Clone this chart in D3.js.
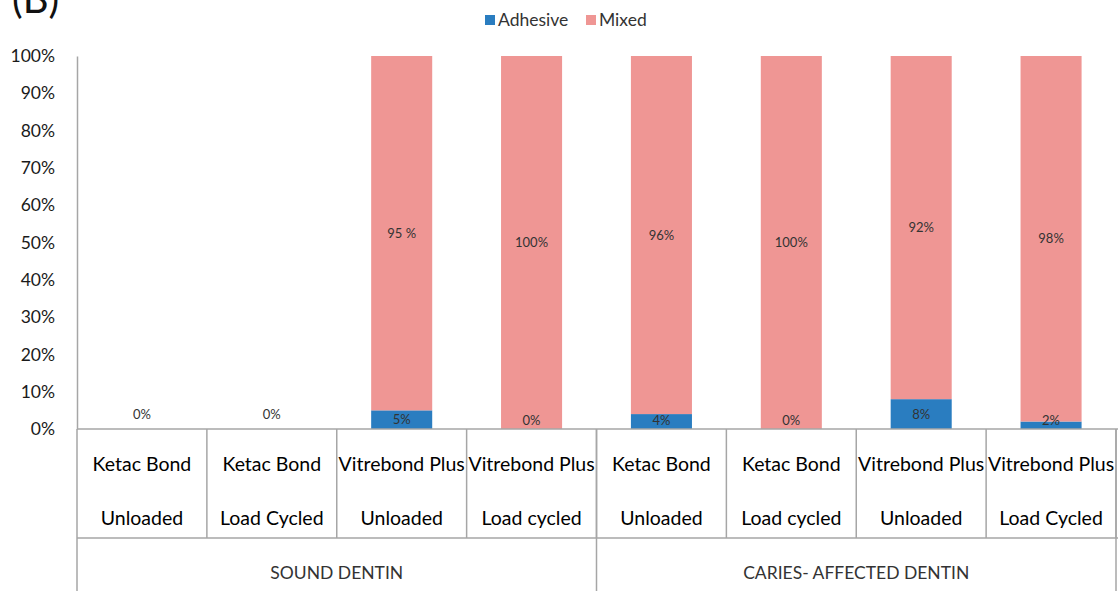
<!DOCTYPE html>
<html>
<head>
<meta charset="utf-8">
<script src="https://cdn.jsdelivr.net/npm/d3@7"></script>
<style>
  html, body { margin: 0; padding: 0; background: #fff; }
  svg { display: block; }
  text { font-family: Lato, "Open Sans", sans-serif; }
</style>
</head>
<body>
<svg id="chart" width="1118" height="591"></svg>
<script>
// ---- data ----
const materials = ["Ketac Bond", "Ketac Bond", "Vitrebond Plus", "Vitrebond Plus",
                   "Ketac Bond", "Ketac Bond", "Vitrebond Plus", "Vitrebond Plus"];
const conditions = ["Unloaded", "Load Cycled", "Unloaded", "Load cycled",
                    "Unloaded", "Load cycled", "Unloaded", "Load Cycled"];
const groups = ["SOUND DENTIN", "CARIES- AFFECTED DENTIN"];
const groupSizes = [4, 4];
const adhesive = [0, 0, 5, 0, 4, 0, 8, 2];
const mixed = [0, 0, 95, 100, 96, 100, 92, 98];
const adhesiveLabels = ["0%", "0%", "5%", "0%", "4%", "0%", "8%", "2%"];
const mixedLabels = ["", "", "95 %", "100%", "96%", "100%", "92%", "98%"];
const seriesNames = ["Adhesive", "Mixed"];
const yTicks = [0, 10, 20, 30, 40, 50, 60, 70, 80, 90, 100];

// ---- layout ----
const colors = { Adhesive: "#2a7dc0", Mixed: "#ef9694" };
const gridColor = "#a6a6a6";
const L = { left: 77, right: 1116, top: 56, base: 429, row1: 538, bottom: 591 };

const svg = d3.select("#chart");
const idx = d3.range(materials.length);

const x = d3.scaleBand().domain(idx).range([L.left, L.right]).paddingInner(0.53).paddingOuter(0.265);
const xCell = d3.scaleBand().domain(idx).range([L.left, L.right]).padding(0);
const y = d3.scaleLinear().domain([0, 100]).range([L.base, L.top]);

// title fragment (cut off at the top in the source figure)
svg.append("text").attr("x", 12).attr("y", 13).attr("font-size", 40)
  .attr("font-family", "Liberation Sans, Arial, sans-serif").attr("fill", "#111").text("(B)");

// legend
const legend = svg.append("g");
const legX = [485, 586];
seriesNames.forEach((s, i) => {
  legend.append("rect").attr("x", legX[i]).attr("y", 15).attr("width", 10).attr("height", 10).attr("fill", colors[s]);
  legend.append("text").attr("x", legX[i] + 13).attr("y", 26).attr("font-size", 17.5)
    .attr("fill", "#333").text(s);
});

// y axis
const yAxis = d3.axisLeft(y).tickValues(yTicks).tickSize(0).tickPadding(22).tickFormat(d => d + "%");
const gy = svg.append("g").attr("transform", `translate(${L.left},0)`).call(yAxis);
gy.select(".domain").attr("stroke", gridColor).attr("stroke-width", 1.5);
gy.selectAll("text").attr("font-size", 17.5).attr("fill", "#1a1a1a").attr("font-family", "Lato, sans-serif");

// bars
const stacked = idx.map(i => ({ i, a: adhesive[i], m: mixed[i] }));
svg.append("g").selectAll("rect").data(stacked).join("rect")
  .attr("x", d => x(d.i)).attr("width", x.bandwidth())
  .attr("y", d => y(d.a)).attr("height", d => y(0) - y(d.a))
  .attr("fill", colors.Adhesive);
svg.append("g").selectAll("rect").data(stacked).join("rect")
  .attr("x", d => x(d.i)).attr("width", x.bandwidth())
  .attr("y", d => y(d.a + d.m)).attr("height", d => y(d.a) - y(d.a + d.m))
  .attr("fill", colors.Mixed);

// data labels
const lab = svg.append("g").attr("font-size", 13).attr("fill", "#333").attr("text-anchor", "middle");
stacked.forEach(d => {
  const cx = x(d.i) + x.bandwidth() / 2;
  let ay;
  if (d.a + d.m === 0) ay = L.base - 15;
  else ay = Math.min((y(0) + y(d.a)) / 2, L.base - 9);
  lab.append("text").attr("x", cx).attr("y", ay).attr("dy", "0.35em").text(adhesiveLabels[d.i]);
  if (mixedLabels[d.i]) {
    lab.append("text").attr("x", cx).attr("y", (y(d.a) + y(d.a + d.m)) / 2).attr("dy", "0.35em").text(mixedLabels[d.i]);
  }
});

// category table
const grid = svg.append("g").attr("stroke", gridColor).attr("stroke-width", 1.5).attr("fill", "none");
grid.append("line").attr("x1", L.left).attr("x2", L.right + 2).attr("y1", L.base).attr("y2", L.base);
grid.append("line").attr("x1", L.left).attr("x2", L.right + 2).attr("y1", L.row1).attr("y2", L.row1);
idx.forEach(i => {
  const xb = xCell(i) + xCell.bandwidth();
  grid.append("line").attr("x1", xb).attr("x2", xb).attr("y1", L.base).attr("y2", L.row1);
});
let acc = 0;
const groupBounds = [];
groups.forEach((g, gi) => {
  const x0 = xCell(acc);
  acc += groupSizes[gi];
  const x1 = xCell(acc - 1) + xCell.bandwidth();
  groupBounds.push([x0, x1]);
});
[L.left, groupBounds[0][1], L.right].forEach(xx => {
  grid.append("line").attr("x1", xx).attr("x2", xx).attr("y1", L.base).attr("y2", L.bottom);
});

const catText = svg.append("g").attr("text-anchor", "middle").attr("fill", "#000").attr("font-size", 19.5);
idx.forEach(i => {
  const cx = xCell(i) + xCell.bandwidth() / 2;
  catText.append("text").attr("x", cx).attr("y", 464).attr("dy", "0.35em").text(materials[i]);
  catText.append("text").attr("x", cx).attr("y", 518).attr("dy", "0.35em").text(conditions[i]);
});
groups.forEach((g, gi) => {
  svg.append("text").attr("x", (groupBounds[gi][0] + groupBounds[gi][1]) / 2).attr("y", 573)
    .attr("dy", "0.35em").attr("text-anchor", "middle").attr("font-size", 17.5).attr("fill", "#333").text(g);
});
</script>
</body>
</html>
